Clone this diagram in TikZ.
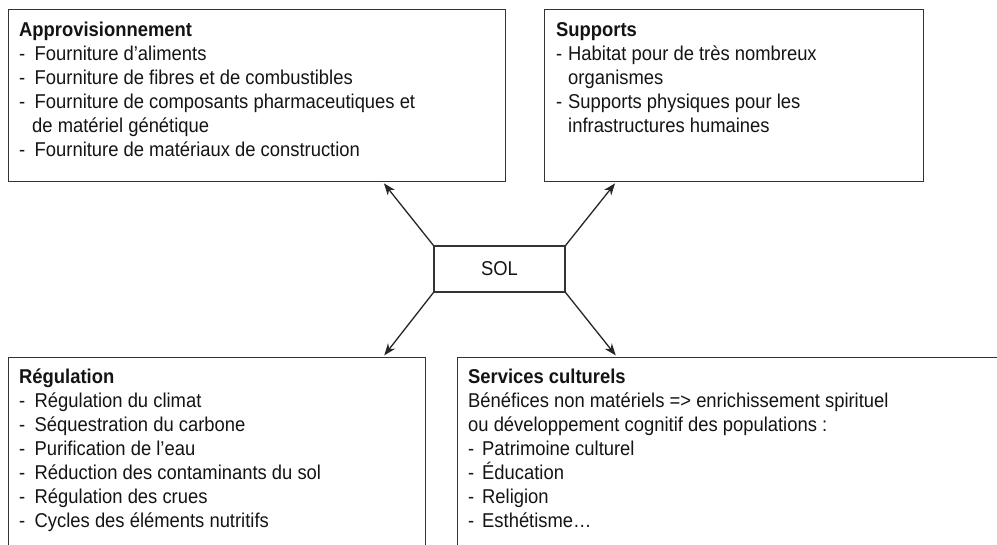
\documentclass[tikz,border=0pt]{standalone}
\usepackage{fontspec}
\setmainfont{Liberation Sans}[FakeStretch=0.92]
\usetikzlibrary{arrows.meta}

\newcommand\dashitem[1]{\makebox[#1][l]{-}}
\newcommand\boxtext[2]{\parbox[t]{#1}{\raggedright\fontsize{20}{24}\selectfont #2}}

\tikzset{
  frame/.style={draw=black!80, line width=1.2pt, rectangle, inner sep=0pt, anchor=north west},
  label/.style={inner sep=0pt, anchor=base west, text=black!92},
  link/.style={draw=black!85, line width=1.3pt, -{Stealth[length=12pt,width=9pt]}, shorten >=1.5pt}
}

\begin{document}
\begin{tikzpicture}[x=1pt, y=-1pt]
  \clip (0,0) rectangle (997,545);
  \fill[white] (0,0) rectangle (997,545);

  % frames
  \node[frame, minimum width=497pt, minimum height=172pt] (appro) at (8,9) {};
  \node[frame, minimum width=379pt, minimum height=172pt] (supp) at (544,9) {};
  \node[frame, minimum width=417pt, minimum height=260pt] (reg) at (8,357) {};
  \node[frame, minimum width=580pt, minimum height=260pt] (serv) at (457,357) {};
  \node[frame, minimum width=131pt, minimum height=46pt, anchor=center,
        font=\fontsize{20}{24}\selectfont, text=black!92] (sol) at (499.5,269) {SOL};

  % texts
  \node[label] (approtext) at (19,36.7) {\boxtext{480pt}{%
    \textbf{Approvisionnement}\\
    \dashitem{15.5pt}Fourniture d’aliments\\
    \dashitem{15.5pt}Fourniture de fibres et de combustibles\\
    \dashitem{15.5pt}Fourniture de composants pharmaceutiques et\\
    \hspace*{13pt}de matériel génétique\\
    \dashitem{15.5pt}Fourniture de matériaux de construction}};

  \node[label] (supptext) at (556,36.7) {\boxtext{360pt}{%
    \textbf{Supports}\\
    \dashitem{12pt}Habitat pour de très nombreux\\
    \hspace*{12pt}organismes\\
    \dashitem{12pt}Supports physiques pour les\\
    \hspace*{12pt}infrastructures humaines}};

  \node[label] (regtext) at (19,384) {\boxtext{400pt}{%
    \textbf{Régulation}\\
    \dashitem{15.5pt}Régulation du climat\\
    \dashitem{15.5pt}Séquestration du carbone\\
    \dashitem{15.5pt}Purification de l’eau\\
    \dashitem{15.5pt}Réduction des contaminants du sol\\
    \dashitem{15.5pt}Régulation des crues\\
    \dashitem{15.5pt}Cycles des éléments nutritifs}};

  \node[label] (servtext) at (468,384) {\boxtext{520pt}{%
    \textbf{Services culturels}\\
    Bénéfices non matériels => enrichissement spirituel\\
    ou développement cognitif des populations :\\
    \dashitem{14pt}Patrimoine culturel\\
    \dashitem{14pt}Éducation\\
    \dashitem{14pt}Religion\\
    \dashitem{14pt}Esthétisme…}};

  % connectors from the central node
  \draw[link] (sol.north west) -- ([xshift=375pt]appro.south west);
  \draw[link] (sol.north east) -- ([xshift=72pt]supp.south west);
  \draw[link, shorten >=2pt] (sol.south west) -- ([xshift=375pt]reg.north west);
  \draw[link, shorten >=2pt] (sol.south east) -- ([xshift=160pt]serv.north west);
\end{tikzpicture}
\end{document}
